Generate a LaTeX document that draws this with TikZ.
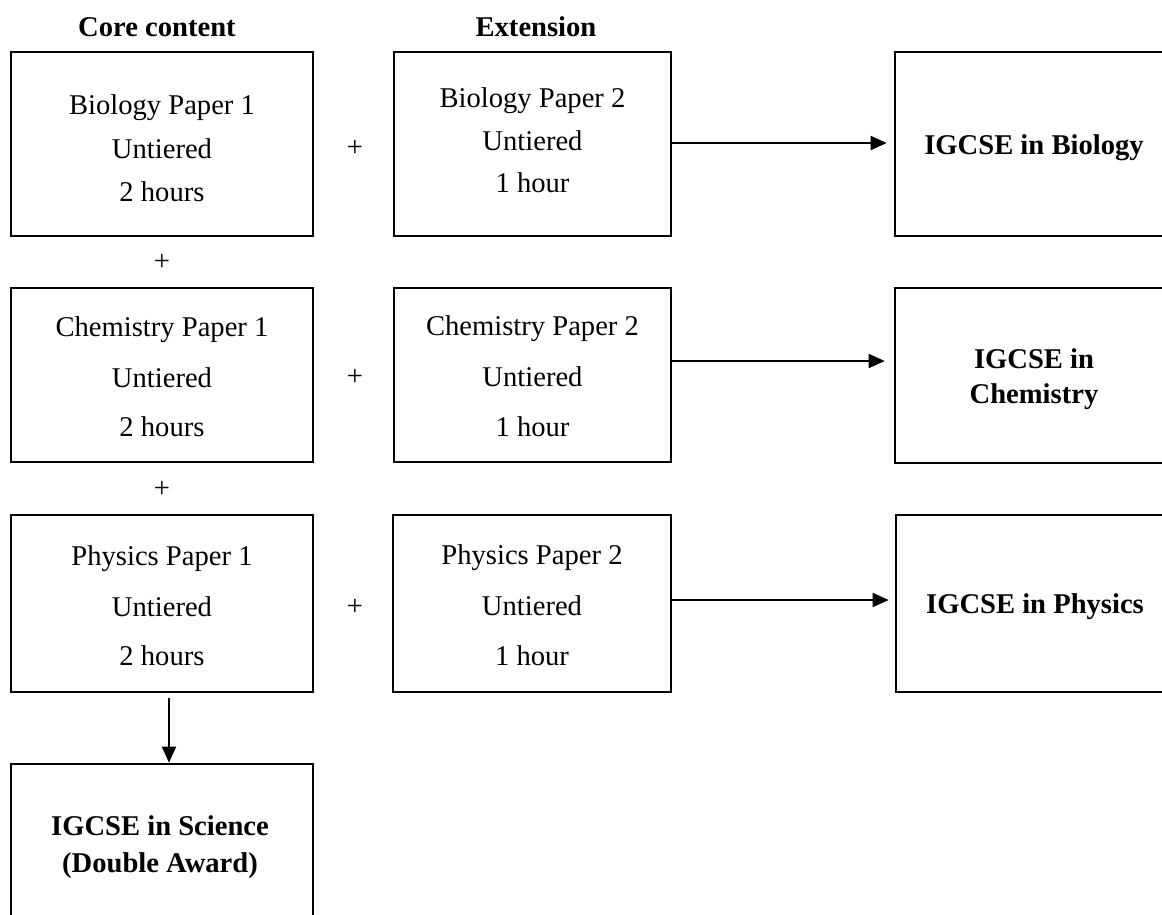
\documentclass[tikz,border=0pt]{standalone}
\usepackage{fontspec}
\setmainfont{Liberation Serif}
\usetikzlibrary{arrows.meta,calc}
\tikzset{
  paperbox/.style={draw, line width=2.6pt, inner sep=0pt},
  txt/.style={font=\fontsize{28.6pt}{34pt}\selectfont, anchor=base, inner sep=0pt},
  btxt/.style={font=\fontsize{28.6pt}{34pt}\selectfont\bfseries, anchor=base, inner sep=0pt},
  plus/.style={font=\fontsize{28.6pt}{34pt}\selectfont, anchor=center, inner sep=0pt},
  conn/.style={line width=1.8pt, -{Triangle[length=16pt,width=14pt]}},
}
\begin{document}
\begin{tikzpicture}[x=1pt,y=-1pt]
\useasboundingbox (0,0) rectangle (1162,915);
\clip (0,0) rectangle (1162,915);

% headings
\node[btxt] (hcore) at (157,37) {Core content};
\node[btxt] (hext) at (536,37) {Extension};

% boxes
\node[paperbox, minimum width=302pt, minimum height=184pt] (b1) at (162,144) {};
\node[paperbox, minimum width=277pt, minimum height=184pt] (b2) at (532.5,144) {};
\node[paperbox, minimum width=278pt, minimum height=184pt] (bi) at (1034,144) {};
\node[paperbox, minimum width=302pt, minimum height=174pt] (c1) at (162,375) {};
\node[paperbox, minimum width=277pt, minimum height=174pt] (c2) at (532.5,375) {};
\node[paperbox, minimum width=278pt, minimum height=175pt] (ci) at (1034,375.5) {};
\node[paperbox, minimum width=302pt, minimum height=177pt] (p1) at (162,603.5) {};
\node[paperbox, minimum width=278pt, minimum height=177pt] (p2) at (532,603.5) {};
\node[paperbox, minimum width=278pt, minimum height=177pt] (pi) at (1035,603.5) {};
\node[paperbox, minimum width=302pt, minimum height=184pt] (sci) at (162,856) {};

% biology texts
\node[txt] (b1a) at (162,115) {Biology Paper 1};
\node[txt] (b1b) at (162,158) {Untiered};
\node[txt] (b1c) at (162,201) {2 hours};
\node[txt] (b2a) at (532.5,108) {Biology Paper 2};
\node[txt] (b2b) at (532.5,151) {Untiered};
\node[txt] (b2c) at (532.5,193) {1 hour};
\node[btxt] (bia) at (1034,155) {IGCSE in Biology};

% chemistry texts
\node[txt] (c1a) at (162,336) {Chemistry Paper 1};
\node[txt] (c1b) at (162,387) {Untiered};
\node[txt] (c1c) at (162,436) {2 hours};
\node[txt] (c2a) at (532.5,335) {Chemistry Paper 2};
\node[txt] (c2b) at (532.5,386) {Untiered};
\node[txt] (c2c) at (532.5,436) {1 hour};
\node[btxt] (cia) at (1034,368) {IGCSE in};
\node[btxt] (cib) at (1034,403) {Chemistry};

% physics texts
\node[txt] (p1a) at (162,565) {Physics Paper 1};
\node[txt] (p1b) at (162,616) {Untiered};
\node[txt] (p1c) at (162,665) {2 hours};
\node[txt] (p2a) at (532,564) {Physics Paper 2};
\node[txt] (p2b) at (532,615) {Untiered};
\node[txt] (p2c) at (532,665) {1 hour};
\node[btxt] (pia) at (1035,613) {IGCSE in Physics};

% science texts
\node[btxt] (sa) at (160,835) {IGCSE in Science};
\node[btxt] (sb) at (160,872) {(Double Award)};

% plus signs
\node[plus] (pl1) at (355,148) {+};
\node[plus] (pl2) at (355,377) {+};
\node[plus] (pl3) at (355,607) {+};
\node[plus] (pl4) at (162,262) {+};
\node[plus] (pl5) at (162,489) {+};

% connectors
\coordinate (ya) at (0,143);
\coordinate (yb) at (0,361);
\coordinate (yc) at (0,600);
\coordinate (xv) at (169,0);
\draw[conn, shorten >=7pt] (b2.east |- ya) -- (bi.west |- ya);
\draw[conn, shorten >=9pt] (c2.east |- yb) -- (ci.west |- yb);
\draw[conn, shorten >=6pt] (p2.east |- yc) -- (pi.west |- yc);
\draw[conn, shorten <=5pt] (p1.south -| xv) -- (sci.north -| xv);
\end{tikzpicture}
\end{document}
